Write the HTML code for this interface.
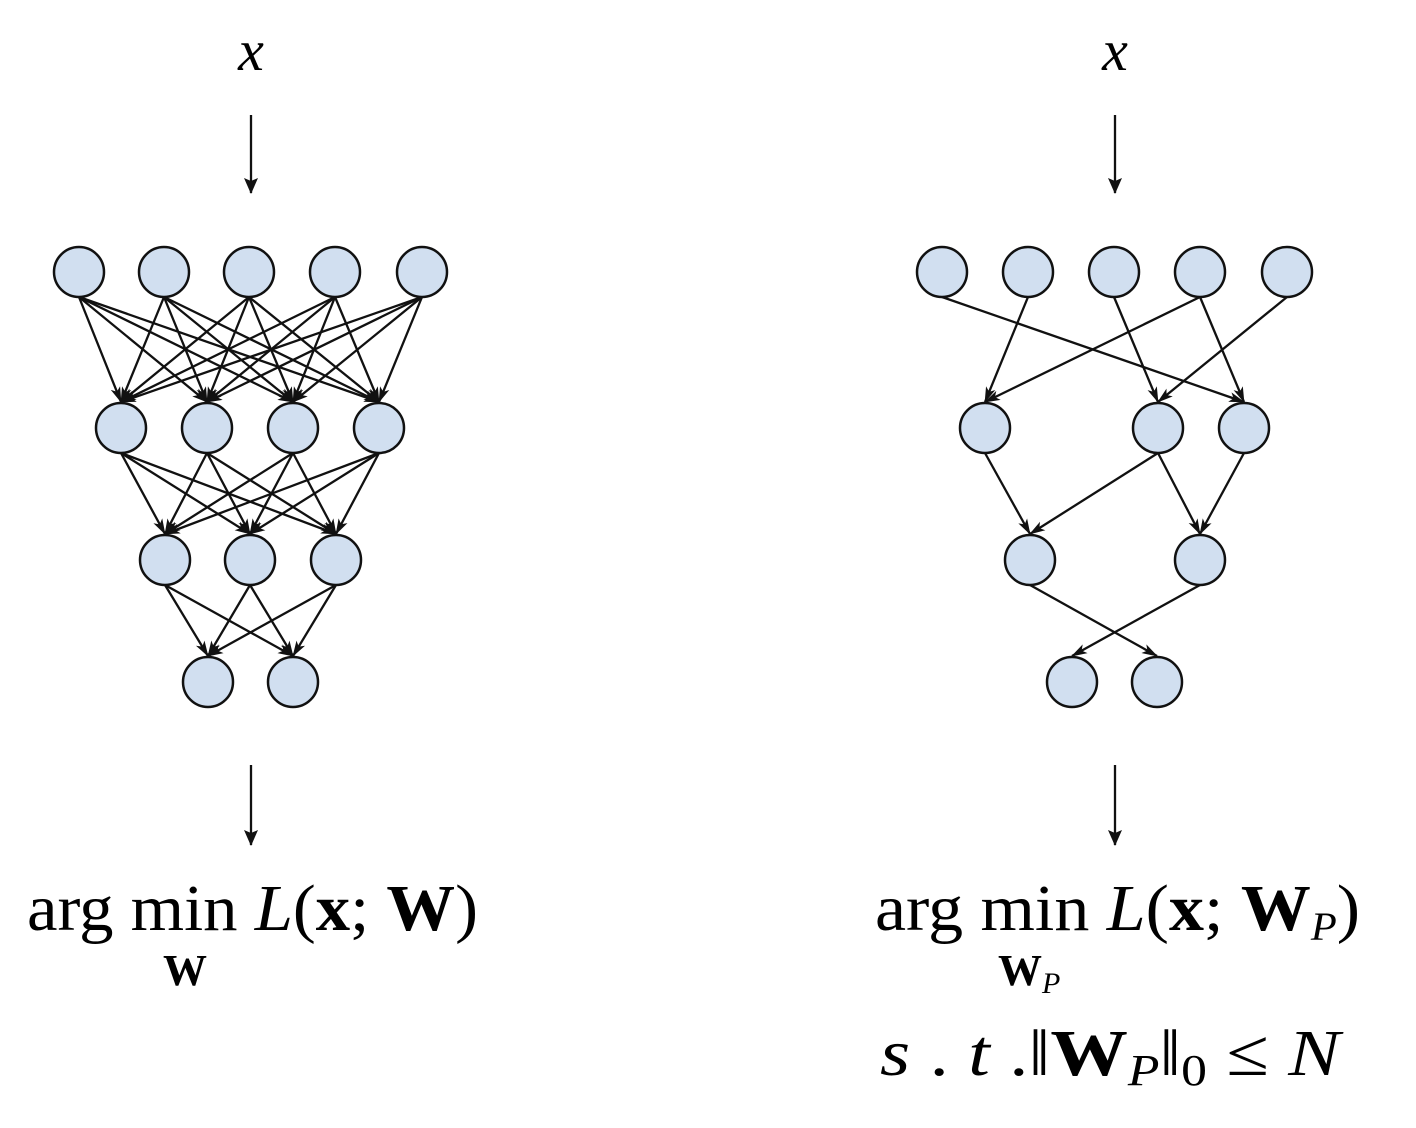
<!DOCTYPE html>
<html><head><meta charset="utf-8"><style>html,body{margin:0;padding:0;background:#fff}svg{display:block}</style></head>
<body>
<svg id="s" width="1416" height="1128" viewBox="0 0 1416 1128" xmlns="http://www.w3.org/2000/svg" font-family="Liberation Serif, serif">
<defs><marker id="a" markerWidth="16" markerHeight="16" refX="15" refY="8" orient="auto" markerUnits="userSpaceOnUse"><path d="M0,1 L16,8 L0,15 L3,8 z" fill="#111"/></marker>
<marker id="b" markerWidth="16" markerHeight="12" refX="15" refY="6" orient="auto" markerUnits="userSpaceOnUse"><path d="M0,1 L16,6 L0,11 L4,6 z" fill="#111"/></marker></defs>
<g id="lines" stroke="#111" stroke-width="2.3" fill="none"></g>
<g id="nodes" fill="#d1dff0" stroke="#111" stroke-width="2.5"></g>
<g stroke="#111" stroke-width="2.3">
<line x1="251" y1="115" x2="251" y2="193" marker-end="url(#a)"/>
<line x1="1115" y1="115" x2="1115" y2="193" marker-end="url(#a)"/>
<line x1="251" y1="765" x2="251" y2="845" marker-end="url(#a)"/>
<line x1="1115" y1="765" x2="1115" y2="845" marker-end="url(#a)"/>
</g>
<text x="251" y="70" font-size="58" font-style="italic" text-anchor="middle">x</text>
<text x="1115" y="70" font-size="58" font-style="italic" text-anchor="middle">x</text>
<text x="27" y="930" font-size="66" textLength="451" lengthAdjust="spacingAndGlyphs">arg min <tspan font-style="italic">L</tspan>(<tspan font-weight="bold">x</tspan>; <tspan font-weight="bold">W</tspan>)</text>
<text x="185" y="985" font-size="44" font-weight="bold" text-anchor="middle">W</text>
<text x="875" y="930" font-size="66" textLength="485" lengthAdjust="spacingAndGlyphs">arg min <tspan font-style="italic">L</tspan>(<tspan font-weight="bold">x</tspan>; <tspan font-weight="bold">W</tspan><tspan font-style="italic" font-size="40" dy="10">P</tspan><tspan dy="-10">)</tspan></text>
<text x="998" y="985" font-size="44" font-weight="bold">W<tspan font-style="italic" font-weight="normal" font-size="30" dy="8">P</tspan></text>
<text x="880" y="1075" font-size="66" textLength="460" lengthAdjust="spacingAndGlyphs"><tspan font-style="italic">s</tspan> . <tspan font-style="italic">t</tspan> .‖<tspan font-weight="bold">W</tspan><tspan font-style="italic" font-size="44" dy="10">P</tspan><tspan dy="-10">‖</tspan><tspan font-size="44" dy="10">0</tspan><tspan dy="-10"> ≤ </tspan><tspan font-style="italic">N</tspan></text>
</svg>
<script>
var NS="http://www.w3.org/2000/svg",R=25;
var L=[[[79,164,249,335,422],272],[[121,207,293,379],428],[[165,250,336],560],[[208,293],682]];
var Rt=[[[942,1028,1114,1200,1287],272],[[985,1158,1244],428],[[1030,1200],560],[[1072,1157],682]];
var lg=document.getElementById('lines'),ng=document.getElementById('nodes');
function ln(x1,y1,x2,y2,m){var e=document.createElementNS(NS,'line');e.setAttribute('x1',x1);e.setAttribute('y1',y1+R);e.setAttribute('x2',x2);e.setAttribute('y2',y2-R-1);e.setAttribute('marker-end','url(#'+m+')');lg.appendChild(e);}
function nd(x,y){var c=document.createElementNS(NS,'circle');c.setAttribute('cx',x);c.setAttribute('cy',y);c.setAttribute('r',R);ng.appendChild(c);}
for(var i=0;i<3;i++){L[i][0].forEach(function(a){L[i+1][0].forEach(function(b){ln(a,L[i][1],b,L[i+1][1],'b');});});}
var E=[[0,0,2],[0,1,0],[0,2,1],[0,3,0],[0,3,2],[0,4,1],[1,0,0],[1,1,0],[1,1,1],[1,2,1],[2,0,1],[2,1,0]];
E.forEach(function(e){var i=e[0];ln(Rt[i][0][e[1]],Rt[i][1],Rt[i+1][0][e[2]],Rt[i+1][1],'b');});
L.concat(Rt).forEach(function(l){l[0].forEach(function(x){nd(x,l[1]);});});
</script>
</body></html>
